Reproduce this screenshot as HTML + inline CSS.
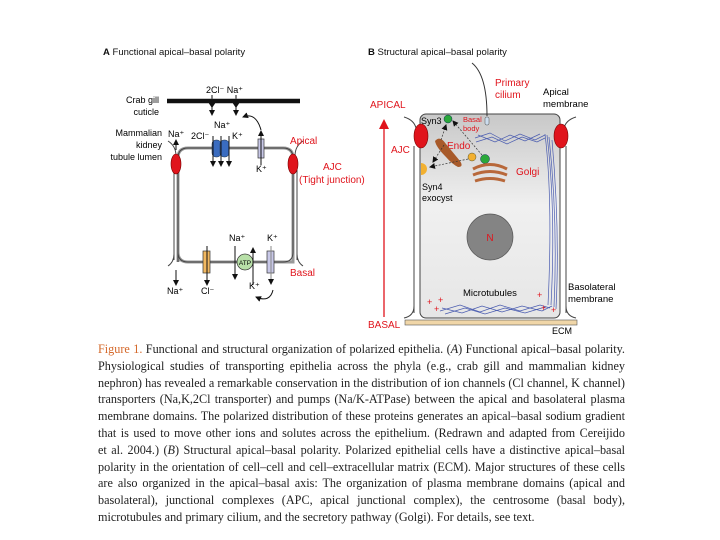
<!DOCTYPE html>
<html><head><meta charset="utf-8"><style>
body{margin:0;background:#fff;width:720px;height:540px;overflow:hidden;position:relative}
svg{position:absolute;left:0;top:0}
.cap{position:absolute;left:98px;top:341px;width:527px;font-family:"Liberation Serif",serif;font-size:12.2px;line-height:16.8px;color:#222}
.cap div{text-align:justify;text-align-last:justify;white-space:nowrap;overflow:visible}
.cap div.l{text-align-last:left}
.cap .r{color:#d4682a}
</style></head><body>
<svg width="720" height="540" font-family="Liberation Sans, sans-serif">
<defs>
<marker id="ah" markerWidth="6" markerHeight="6" refX="5" refY="3" orient="auto" markerUnits="userSpaceOnUse"><path d="M0,0L6,3L0,6z" fill="#111"/></marker>
<marker id="ahr" markerWidth="10" markerHeight="10" refX="5" refY="5" orient="auto" markerUnits="userSpaceOnUse"><path d="M0,0L10,5L0,10z" fill="#e0141c"/></marker>
<linearGradient id="cg" x1="0" y1="0" x2="0" y2="1"><stop offset="0" stop-color="#c8c8c8"/><stop offset="0.45" stop-color="#f0f0f0"/><stop offset="1" stop-color="#e6e6e6"/></linearGradient>
</defs>
<!-- Panel A -->
<text x="103" y="55" font-size="9.5" fill="#111"><tspan font-weight="bold">A</tspan> Functional apical–basal polarity</text>
<text x="159" y="103" font-size="9" text-anchor="end">Crab gill</text>
<text x="159" y="115" font-size="9" text-anchor="end">cuticle</text>
<text x="162" y="136" font-size="9" text-anchor="end">Mammalian</text>
<text x="162" y="148" font-size="9" text-anchor="end">kidney</text>
<text x="162" y="160" font-size="9" text-anchor="end">tubule lumen</text>
<text x="206" y="93" font-size="9">2Cl⁻ Na⁺</text>
<path d="M167,101 H210 L212,104 L214,101 H234 L236,104 L238,101 H300" stroke="#111" stroke-width="4.5" fill="none"/>
<line x1="212" y1="95" x2="212" y2="115" stroke="#111" marker-end="url(#ah)"/>
<line x1="236" y1="95" x2="236" y2="115" stroke="#111" marker-end="url(#ah)"/>
<!-- cell A -->
<path d="M178,262 V158 Q178,148 188,148 H283 Q293,148 293,158 V262 H188 Q178,262 178,252" fill="none" stroke="#999" stroke-width="3"/>
<path d="M178,262 V158 Q178,148 188,148 H283 Q293,148 293,158 V252 Q293,262 283,262 H188 Q178,262 178,252" fill="none" stroke="#444" stroke-width="1"/>
<line x1="174" y1="170" x2="174" y2="260" stroke="#444" stroke-width="1"/>
<line x1="297" y1="170" x2="297" y2="260" stroke="#444" stroke-width="1"/>
<path d="M168,141 Q176,146 176,156" fill="none" stroke="#444"/>
<path d="M303,141 Q295,146 295,156" fill="none" stroke="#444"/>
<path d="M168,266 Q174,262 174,254" fill="none" stroke="#444"/>
<path d="M303,266 Q297,262 297,254" fill="none" stroke="#444"/>
<ellipse cx="176" cy="164" rx="5" ry="10" fill="#e0141c" stroke="#700" stroke-width=".6"/>
<ellipse cx="293" cy="164" rx="5" ry="10" fill="#e0141c" stroke="#700" stroke-width=".6"/>
<text x="168" y="137" font-size="9">Na⁺</text>
<line x1="176" y1="150" x2="176" y2="140" stroke="#111" marker-end="url(#ah)"/>
<line x1="176" y1="270" x2="176" y2="285" stroke="#111" marker-end="url(#ah)"/>
<text x="167" y="294" font-size="9">Na⁺</text>
<text x="214" y="128" font-size="9">Na⁺</text>
<text x="191" y="139" font-size="9">2Cl⁻</text>
<text x="232" y="139" font-size="9">K⁺</text>
<rect x="212" y="140" width="9" height="17" rx="4" fill="#3a6cc0" stroke="#234" stroke-width=".5"/>
<rect x="220" y="140" width="9" height="17" rx="4" fill="#3a6cc0" stroke="#234" stroke-width=".5"/>
<line x1="213" y1="136" x2="213" y2="166" stroke="#111" marker-end="url(#ah)"/>
<line x1="221" y1="136" x2="221" y2="166" stroke="#111" marker-end="url(#ah)"/>
<line x1="229" y1="136" x2="229" y2="166" stroke="#111" marker-end="url(#ah)"/>
<rect x="258" y="139" width="6" height="19" fill="#c8c8e8" stroke="#333" stroke-width=".7"/>
<line x1="261" y1="165" x2="261" y2="131" stroke="#111" marker-end="url(#ah)"/>
<path d="M261,130 Q256,112 243,117" fill="none" stroke="#111" marker-end="url(#ah)"/>
<text x="256" y="172" font-size="9">K⁺</text>
<text x="290" y="144" font-size="10" fill="#e0141c">Apical</text>
<text x="323" y="170" font-size="10" fill="#e0141c">AJC</text>
<text x="299" y="183" font-size="10" fill="#e0141c">(Tight junction)</text>
<text x="290" y="276" font-size="10" fill="#e0141c">Basal</text>
<rect x="203" y="251" width="7" height="22" fill="#f2b860" stroke="#333" stroke-width=".7"/>
<line x1="207" y1="246" x2="207" y2="285" stroke="#111" marker-end="url(#ah)"/>
<text x="201" y="294" font-size="9">Cl⁻</text>
<text x="229" y="241" font-size="9">Na⁺</text>
<line x1="235" y1="246" x2="235" y2="279" stroke="#111" marker-end="url(#ah)"/>
<circle cx="245" cy="262" r="8" fill="#b8e0a8" stroke="#333" stroke-width=".7"/>
<text x="245" y="265" font-size="6.5" text-anchor="middle">ATP</text>
<line x1="253" y1="285" x2="253" y2="248" stroke="#111" marker-end="url(#ah)"/>
<text x="249" y="289" font-size="9">K⁺</text>
<text x="267" y="241" font-size="9">K⁺</text>
<rect x="267" y="251" width="7" height="22" fill="#c8c8e8" stroke="#333" stroke-width=".7"/>
<line x1="271" y1="246" x2="271" y2="284" stroke="#888" marker-end="url(#ah)"/>
<path d="M273,290 Q270,303 256,297" fill="none" stroke="#111" marker-end="url(#ah)"/>
<!-- Panel B -->
<text x="368" y="55" font-size="9.5" fill="#111"><tspan font-weight="bold">B</tspan> Structural apical–basal polarity</text>
<text x="370" y="108" font-size="10" fill="#e0141c">APICAL</text>
<line x1="384" y1="317" x2="384" y2="124" stroke="#e0141c" stroke-width="1.3" marker-end="url(#ahr)"/>
<text x="368" y="328" font-size="10" fill="#e0141c">BASAL</text>
<text x="391" y="153" font-size="10" fill="#e0141c">AJC</text>
<rect x="405" y="320" width="172" height="5" fill="#f0d6a8" stroke="#555" stroke-width=".6"/>
<text x="552" y="334" font-size="9">ECM</text>
<rect x="420" y="114" width="140" height="204" rx="6" fill="url(#cg)" stroke="#444" stroke-width="1"/>
<line x1="414" y1="146" x2="414" y2="313" stroke="#444"/>
<line x1="566" y1="146" x2="566" y2="313" stroke="#444"/>
<path d="M404,117 Q414,120 416,128" fill="none" stroke="#444"/>
<path d="M576,117 Q566,120 564,128" fill="none" stroke="#444"/>
<path d="M404,318 Q414,316 414,306" fill="none" stroke="#444"/>
<path d="M576,318 Q566,316 566,306" fill="none" stroke="#444"/>
<ellipse cx="421" cy="136" rx="7" ry="12" fill="#e0141c" stroke="#700" stroke-width=".6"/>
<ellipse cx="561" cy="136" rx="7" ry="12" fill="#e0141c" stroke="#700" stroke-width=".6"/>
<path d="M472,63 Q487,75 487,116" fill="none" stroke="#333"/>
<rect x="485" y="117" width="4" height="8" rx="1.5" fill="#cde" stroke="#555" stroke-width=".5"/>
<text x="495" y="86" font-size="10" fill="#e0141c">Primary</text>
<text x="495" y="98" font-size="10" fill="#e0141c">cilium</text>
<text x="543" y="95" font-size="9.5">Apical</text>
<text x="543" y="107" font-size="9.5">membrane</text>
<text x="568" y="290" font-size="9.5">Basolateral</text>
<text x="568" y="302" font-size="9.5">membrane</text>
<text x="421" y="124" font-size="9">Syn3</text>
<circle cx="448" cy="119" r="4" fill="#2aa83a" stroke="#135" stroke-width=".5"/>
<text x="463" y="122" font-size="7.5" fill="#e0141c">Basal</text>
<text x="463" y="131" font-size="7.5" fill="#e0141c">body</text>
<text x="447" y="149" font-size="10" fill="#e0141c">Endo</text>
<path d="M435,141 Q440,135 446,144 L460,161 Q464,167 458,167 Q452,164 446,157 Q436,147 435,141z" fill="#a85a2a"/>
<circle cx="472" cy="157" r="4" fill="#f2b030" stroke="#553" stroke-width=".5"/>
<circle cx="485" cy="159" r="4.5" fill="#2aa83a" stroke="#135" stroke-width=".5"/>
<path d="M473,169 Q490,160 507,169" fill="none" stroke="#b8683a" stroke-width="3"/>
<path d="M473,175 Q490,168 507,175" fill="none" stroke="#b8683a" stroke-width="3"/>
<path d="M475,181 Q490,176 505,181" fill="none" stroke="#b8683a" stroke-width="3"/>
<text x="516" y="175" font-size="10" fill="#e0141c">Golgi</text>
<path d="M421,163 A6,6 0 0 1 421,175 z" fill="#f2b030"/>
<text x="422" y="190" font-size="9">Syn4</text>
<text x="422" y="201" font-size="9">exocyst</text>
<g stroke="#333" stroke-width=".7" stroke-dasharray="2,1.5" fill="none">
<line x1="444" y1="145" x2="433" y2="162" marker-end="url(#ah)"/>
<line x1="441" y1="140" x2="446" y2="125" marker-end="url(#ah)"/>
<line x1="468" y1="159" x2="430" y2="167" marker-end="url(#ah)"/>
<line x1="482" y1="155" x2="453" y2="121" marker-end="url(#ah)"/>
</g>
<circle cx="490" cy="237" r="23" fill="#848484" stroke="#555" stroke-width=".7"/>
<text x="490" y="241" font-size="10" fill="#e0141c" text-anchor="middle">N</text>
<text x="463" y="296" font-size="9.5">Microtubules</text>
<g stroke="#4a5cb0" stroke-width=".7" fill="none">
<path d="M475,138 L490,133 L505,141 L520,134 L535,140 L545,135"/>
<path d="M476,142 L492,137 L507,144 L522,137 L537,142 L545,138"/>
<path d="M478,135 L495,142 L510,135 L525,141 L540,134"/>
<path d="M545,134 Q553,200 548,305"/>
<path d="M547,135 Q556,210 551,305"/>
<path d="M549,137 Q558,220 554,307"/>
<path d="M552,140 Q560,230 556,309"/>
<path d="M440,311 L460,305 L480,312 L500,305 L520,311 L540,305 L550,308"/>
<path d="M442,308 L462,313 L482,306 L502,312 L522,306 L542,311 L552,306"/>
<path d="M445,314 L465,308 L485,314 L505,308 L525,313 L545,307"/>
</g>
<g fill="#e0141c" font-size="9"><text x="427" y="305">+</text><text x="438" y="303">+</text><text x="434" y="312">+</text><text x="537" y="298">+</text><text x="541" y="311">+</text><text x="551" y="313">+</text></g>
</svg>
<div class="cap">
<div><span class="r">Figure 1.</span> Functional and structural organization of polarized epithelia. (<i>A</i>) Functional apical–basal polarity.</div>
<div>Physiological studies of transporting epithelia across the phyla (e.g., crab gill and mammalian kidney</div>
<div>nephron) has revealed a remarkable conservation in the distribution of ion channels (Cl channel, K channel)</div>
<div>transporters (Na,K,2Cl transporter) and pumps (Na/K-ATPase) between the apical and basolateral plasma</div>
<div>membrane domains. The polarized distribution of these proteins generates an apical–basal sodium gradient</div>
<div>that is used to move other ions and solutes across the epithelium. (Redrawn and adapted from Cereijido</div>
<div>et al. 2004.) (<i>B</i>) Structural apical–basal polarity. Polarized epithelial cells have a distinctive apical–basal</div>
<div>polarity in the orientation of cell–cell and cell–extracellular matrix (ECM). Major structures of these cells</div>
<div>are also organized in the apical–basal axis: The organization of plasma membrane domains (apical and</div>
<div>basolateral), junctional complexes (APC, apical junctional complex), the centrosome (basal body),</div>
<div class="l">microtubules and primary cilium, and the secretory pathway (Golgi). For details, see text.</div>
</div>
</body></html>
